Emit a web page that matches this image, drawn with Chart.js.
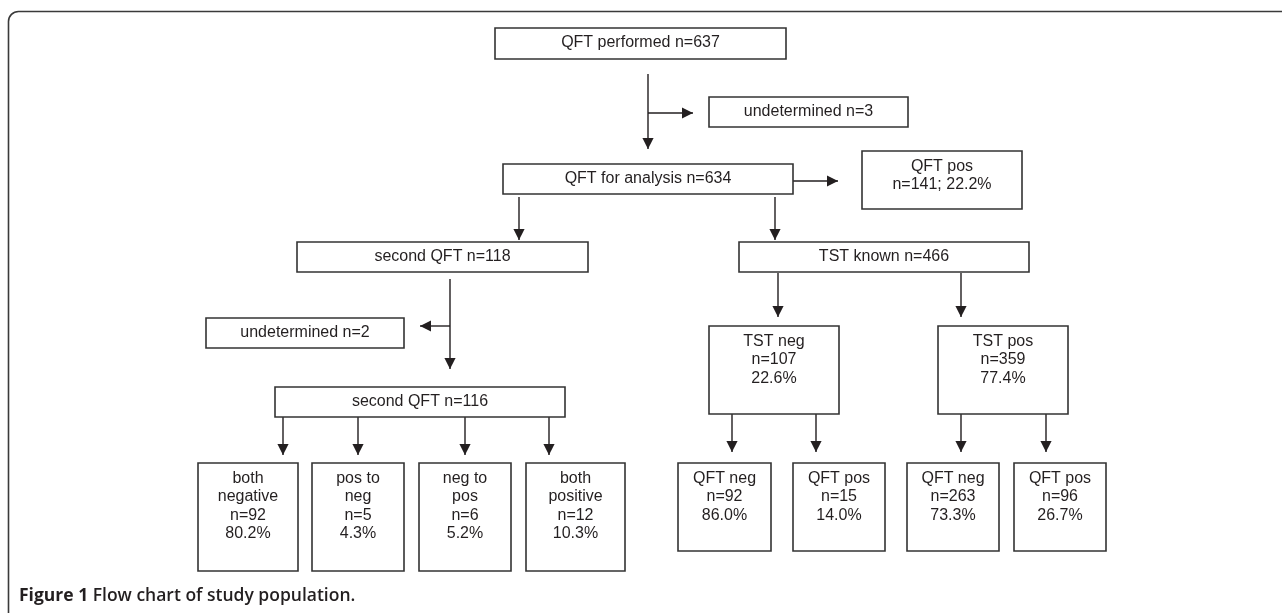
<!DOCTYPE html>
<html><head><meta charset="utf-8">
<script src="https://cdn.jsdelivr.net/npm/chart.js@4"></script>
<style>html,body{margin:0;padding:0;background:#fff;overflow:hidden}canvas{display:block}</style>
</head><body><canvas id="c" width="1282" height="613"></canvas>
<script>
// ---- data ----
const nodeNames = ['QFT performed','undetermined','QFT for analysis','QFT pos','second QFT','undetermined','second QFT',
  'both\nnegative','pos to\nneg','neg to\npos','both\npositive','TST known','TST neg','TST pos','QFT neg','QFT pos','QFT neg','QFT pos'];
const nodeN = [637,3,634,141,118,2,116,92,5,6,12,466,107,359,92,15,263,96];
const nodePct = [null,null,null,'22.2',null,null,null,'80.2','4.3','5.2','10.3',null,'22.6','77.4','86.0','14.0','73.3','26.7'];
const captionBold = 'Figure 1';
const captionText = 'Flow chart of study population.';

// ---- layout (diagram units = pixels) ----
const nodeBoxes = [
  [495,28,786,59,'inline'],[709,97,908,127,'inline'],[503,164,793,194,'inline'],[862,151,1022,209,'semi'],
  [297,242,588,272,'inline'],[206,318,404,348,'inline'],[275,387,565,417,'inline'],
  [198,463,298,571,'stack'],[312,463,404,571,'stack'],[419,463,511,571,'stack'],[526,463,625,571,'stack'],
  [739,242,1029,272,'inline'],[709,326,839,414,'stack'],[938,326,1068,414,'stack'],
  [678,463,771,551,'stack'],[793,463,885,551,'stack'],[907,463,999,551,'stack'],[1014,463,1106,551,'stack']
];
const arrowPaths = [
  [648,74,648,149],[648,113,693,113],[519,197,519,240],[775,197,775,240],[793,181,838,181],
  [450,279,450,369],[450,326,420,326],
  [283,417,283,455],[358,417,358,455],[465,417,465,455],[549,417,549,455],
  [778,273,778,317],[961,273,961,317],
  [732,414,732,452],[816,414,816,452],[961,414,961,452],[1046,414,1046,452]
];

const INK = '#231f20';
function nodeLines(i){
  const n = 'n=' + nodeN[i];
  const fmt = nodeBoxes[i][4];
  if (fmt === 'inline') return [nodeNames[i] + ' ' + n];
  if (fmt === 'semi') return [nodeNames[i], n + '; ' + nodePct[i] + '%'];
  return [...nodeNames[i].split('\n'), n, nodePct[i] + '%'];
}

const datasets = [];
nodeBoxes.forEach(b => {
  const [x1,y1,x2,y2] = b;
  datasets.push({type:'line', data:[{x:x1,y:y1},{x:x2,y:y1},{x:x2,y:y2},{x:x1,y:y2},{x:x1,y:y1}],
    borderColor:'#333', borderWidth:1.6, pointRadius:0, fill:false, tension:0, borderJoinStyle:'miter', borderCapStyle:'square'});
});
arrowPaths.forEach(a => {
  datasets.push({type:'line', data:[{x:a[0],y:a[1]},{x:a[2],y:a[3]}],
    borderColor:INK, borderWidth:1.4, pointRadius:0, fill:false, tension:0, borderCapStyle:'butt'});
});

const diagramPlugin = {
  id:'diagram',
  beforeDraw(chart){
    const ctx = chart.ctx;
    ctx.save();
    ctx.fillStyle = '#fff';
    ctx.fillRect(0,0,chart.width,chart.height);
    // outer rounded frame
    const r = 10, L = 8.5, T = 11.5;
    ctx.strokeStyle = '#3a3a3a'; ctx.lineWidth = 1.6;
    ctx.beginPath();
    ctx.moveTo(L, chart.height + 20);
    ctx.lineTo(L, T + r);
    ctx.arcTo(L, T, L + r, T, r);
    ctx.lineTo(chart.width + 20, T);
    ctx.stroke();
    ctx.restore();
  },
  afterDatasetsDraw(chart){
    const ctx = chart.ctx, xs = chart.scales.x, ys = chart.scales.y;
    ctx.save();
    // arrowheads
    ctx.fillStyle = INK;
    arrowPaths.forEach(a => {
      const x0 = xs.getPixelForValue(a[0]), y0 = ys.getPixelForValue(a[1]);
      const x1 = xs.getPixelForValue(a[2]), y1 = ys.getPixelForValue(a[3]);
      const len = Math.hypot(x1-x0, y1-y0), ux = (x1-x0)/len, uy = (y1-y0)/len;
      const h = 11, w = 5.6;
      ctx.beginPath();
      ctx.moveTo(x1, y1);
      ctx.lineTo(x1 - ux*h - uy*w, y1 - uy*h + ux*w);
      ctx.lineTo(x1 - ux*h + uy*w, y1 - uy*h - ux*w);
      ctx.closePath();
      ctx.fill();
    });
    // box texts
    ctx.font = "16px 'Liberation Sans', Arial, sans-serif";
    ctx.textAlign = 'center'; ctx.textBaseline = 'middle';
    nodeBoxes.forEach((b, i) => {
      const lines = nodeLines(i);
      const cx = xs.getPixelForValue((b[0] + b[2]) / 2);
      if (b[4] === 'inline') {
        ctx.fillText(lines[0], cx, ys.getPixelForValue((b[1] + b[3]) / 2 - 0.5));
      } else {
        lines.forEach((t, k) => ctx.fillText(t, cx, ys.getPixelForValue(b[1] + 15.5 + k * 18.5)));
      }
    });
    // caption
    ctx.textAlign = 'left'; ctx.textBaseline = 'alphabetic';
    ctx.font = "bold 17.5px 'Open Sans', 'Noto Sans', sans-serif";
    ctx.fillStyle = '#231f20';
    ctx.fillText(captionBold, 19, 601);
    const wb = ctx.measureText(captionBold + ' ').width;
    ctx.font = "600 17.5px 'Open Sans', 'Noto Sans', sans-serif";
    ctx.fillText(captionText, 19 + wb, 601);
    ctx.restore();
  }
};

new Chart(document.getElementById('c'), {
  type:'line',
  data:{datasets},
  options:{
    responsive:false, maintainAspectRatio:false, animation:false,
    layout:{padding:0},
    parsing:true,
    plugins:{legend:{display:false}, tooltip:{enabled:false}, title:{display:false}},
    events:[],
    scales:{
      x:{type:'linear', min:0, max:1282, display:false},
      y:{type:'linear', min:0, max:613, reverse:true, display:false}
    }
  },
  plugins:[diagramPlugin]
});
</script></body></html>
